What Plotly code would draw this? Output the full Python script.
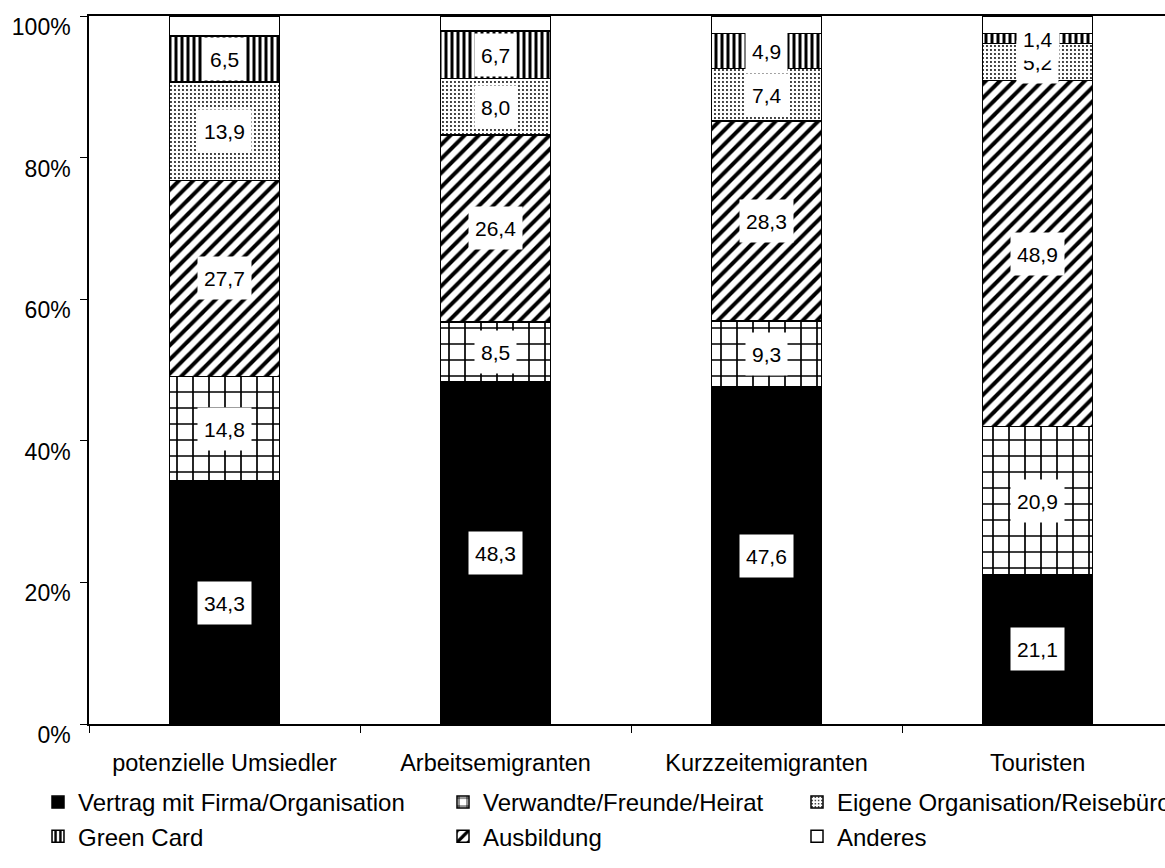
import plotly.graph_objects as go

categories = ["potenzielle Umsiedler", "Arbeitsemigranten", "Kurzzeitemigranten", "Touristen"]

vertrag = [34.3, 48.3, 47.6, 21.1]
verwandte = [14.8, 8.5, 9.3, 20.9]
ausbildung = [27.7, 26.4, 28.3, 48.9]
eigene = [13.9, 8.0, 7.4, 5.2]
green_card = [6.5, 6.7, 4.9, 1.4]
anderes = [2.8, 2.1, 2.5, 2.5]

y_ticks = [0, 20, 40, 60, 80, 100]
y_tick_labels = [f"{v}%" for v in y_ticks]

FONT = "Liberation Sans, Arial, sans-serif"

# stacking order bottom -> top, with legend column / rank and fill style
series = [
    dict(name="Vertrag mit Firma/Organisation", values=vertrag, legend="legend", rank=1,
         color="black", pattern=None, label=True),
    dict(name="Verwandte/Freunde/Heirat", values=verwandte, legend="legend2", rank=2,
         color="white", pattern=dict(shape="+", size=16, solidity=0.2), label=True),
    dict(name="Ausbildung", values=ausbildung, legend="legend2", rank=5,
         color="white", pattern=dict(shape="/", size=10, solidity=0.4), label=True),
    dict(name="Eigene Organisation/Reisebüro", values=eigene, legend="legend3", rank=3,
         color="white", pattern=dict(shape=".", size=4, solidity=0.18), label=True),
    dict(name="Green Card", values=green_card, legend="legend", rank=4,
         color="white", pattern=dict(shape="|", size=6, solidity=0.5), label=True),
    dict(name="Anderes", values=anderes, legend="legend3", rank=6,
         color="white", pattern=None, label=False),
]

fig = go.Figure()
for s in series:
    marker = dict(color=s["color"], line=dict(color="black", width=1.5))
    if s["pattern"]:
        marker["pattern"] = dict(fgcolor="black", bgcolor="white", fillmode="replace", **s["pattern"])
    fig.add_trace(go.Bar(
        x=categories, y=s["values"], name=s["name"], marker=marker,
        legend=s["legend"], legendrank=s["rank"], legendgroup=s["name"],
        hoverinfo="skip",
    ))

# value labels in white boxes, centred on each segment
base = [0.0] * len(categories)
for s in series:
    for i, v in enumerate(s["values"]):
        if s["label"]:
            fig.add_annotation(
                x=i, y=base[i] + v / 2, text=f"{v:.1f}".replace(".", ","),
                showarrow=False, bgcolor="white", borderpad=6, height=30,
                font=dict(family=FONT, size=21, color="black"),
            )
        base[i] += v

W, H = 1165, 868
legend_common = dict(
    xref="container", yref="container", yanchor="top", xanchor="left",
    font=dict(family=FONT, size=24, color="black"), bgcolor="rgba(0,0,0,0)",
    tracegroupgap=0, orientation="v",
)

fig.update_layout(
    width=W, height=H,
    barmode="stack", bargap=0.594,
    plot_bgcolor="white", paper_bgcolor="white",
    margin=dict(l=89, r=0, t=16, b=144, autoexpand=False),
    font=dict(family=FONT, size=23, color="black"),
    legend=dict(x=38 / W, y=1 - 780 / H, **legend_common),
    legend2=dict(x=443 / W, y=1 - 780 / H, **legend_common),
    legend3=dict(x=797 / W, y=1 - 780 / H, **legend_common),
    xaxis=dict(
        type="category", range=[-0.5, 3.47],
        showline=True, linecolor="black", linewidth=1.5, mirror=True,
        ticks="outside", tickson="boundaries", ticklen=7, tickcolor="black",
        ticklabelstandoff=17, showgrid=False, tickangle=0,
        tickfont=dict(family=FONT, size=23.5, color="black"),
    ),
    yaxis=dict(
        range=[0, 100], tickvals=y_ticks, ticktext=y_tick_labels,
        showline=True, linecolor="black", linewidth=1.5,
        ticks="outside", ticklen=7, tickcolor="black", showgrid=False, zeroline=False,
        ticklabelstandoff=5, ticklabelshift=11,
        tickfont=dict(family=FONT, size=23, color="black"),
    ),
)

fig.write_html("out.html")
